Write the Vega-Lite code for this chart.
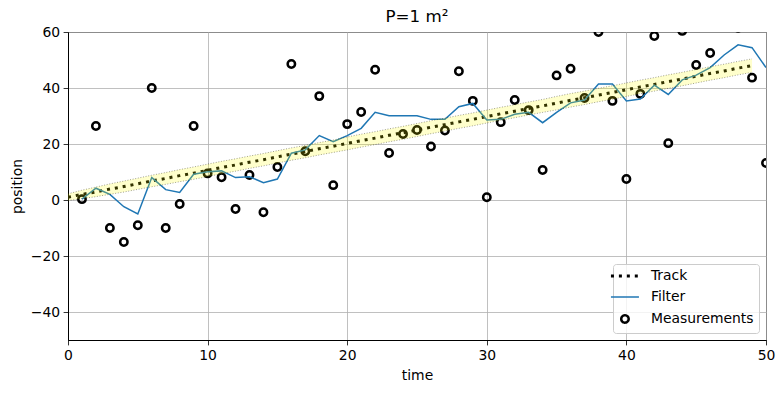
{
  "$schema": "https://vega.github.io/schema/vega-lite/v6.json",
  "width": 698,
  "height": 308,
  "autosize": {"type": "none"},
  "padding": {"left": 68, "top": 32, "right": 18, "bottom": 53},
  "title": {"text": "P=1 m²", "fontSize": 16.7, "font": "DejaVu Sans", "fontWeight": "normal", "color": "black", "offset": -1, "anchor": "middle"},
  "config": {
    "font": "DejaVu Sans",
    "view": {"stroke": "black", "strokeWidth": 1},
    "axis": {
      "labelFontSize": 13.9, "titleFontSize": 13.9, "labelColor": "black", "titleColor": "black",
      "titleFontWeight": "normal", "tickColor": "black", "domainColor": "black",
      "gridColor": "#b0b0b0", "gridWidth": 0.8, "tickSize": 4.9, "labelPadding": 3.5,
      "tickWidth": 0.8, "domainWidth": 1, "labelFont": "DejaVu Sans", "titleFont": "DejaVu Sans",
      "labelFlush": false
    },
    "legend": {
      "orient": "bottom-right", "offset": 7, "fillColor": "rgba(255,255,255,0.8)", "strokeColor": "#cccccc",
      "cornerRadius": 3, "padding": 5, "labelFontSize": 13.9, "labelColor": "black", "labelFont": "DejaVu Sans",
      "symbolType": "stroke", "symbolSize": 784, "rowPadding": 6, "labelOffset": 19
    }
  },
  "datasets": {
    "track": [
      {"time": 0, "position": 1.0, "lo": -0.2, "hi": 2.2},
      {"time": 1, "position": 2.0, "lo": 0.5, "hi": 3.5},
      {"time": 2, "position": 2.9, "lo": 1.2, "hi": 4.6},
      {"time": 3, "position": 3.9, "lo": 2.05, "hi": 5.75},
      {"time": 4, "position": 4.8, "lo": 2.85, "hi": 6.75},
      {"time": 5, "position": 5.8, "lo": 3.8, "hi": 7.8},
      {"time": 6, "position": 6.8, "lo": 4.75, "hi": 8.85},
      {"time": 7, "position": 7.7, "lo": 5.6, "hi": 9.8},
      {"time": 8, "position": 8.7, "lo": 6.55, "hi": 10.85},
      {"time": 9, "position": 9.6, "lo": 7.4, "hi": 11.8},
      {"time": 10, "position": 10.6, "lo": 8.4, "hi": 12.8},
      {"time": 11, "position": 11.6, "lo": 9.4, "hi": 13.8},
      {"time": 12, "position": 12.5, "lo": 10.3, "hi": 14.7},
      {"time": 13, "position": 13.5, "lo": 11.3, "hi": 15.7},
      {"time": 14, "position": 14.4, "lo": 12.2, "hi": 16.6},
      {"time": 15, "position": 15.4, "lo": 13.2, "hi": 17.6},
      {"time": 16, "position": 16.4, "lo": 14.2, "hi": 18.6},
      {"time": 17, "position": 17.3, "lo": 15.1, "hi": 19.5},
      {"time": 18, "position": 18.3, "lo": 16.1, "hi": 20.5},
      {"time": 19, "position": 19.2, "lo": 17.0, "hi": 21.4},
      {"time": 20, "position": 20.2, "lo": 17.9, "hi": 22.5},
      {"time": 21, "position": 21.2, "lo": 18.9, "hi": 23.5},
      {"time": 22, "position": 22.1, "lo": 19.8, "hi": 24.4},
      {"time": 23, "position": 23.1, "lo": 20.8, "hi": 25.4},
      {"time": 24, "position": 24.0, "lo": 21.7, "hi": 26.3},
      {"time": 25, "position": 25.0, "lo": 22.7, "hi": 27.3},
      {"time": 26, "position": 26.0, "lo": 23.7, "hi": 28.3},
      {"time": 27, "position": 26.9, "lo": 24.6, "hi": 29.2},
      {"time": 28, "position": 27.9, "lo": 25.6, "hi": 30.2},
      {"time": 29, "position": 28.8, "lo": 26.5, "hi": 31.1},
      {"time": 30, "position": 29.8, "lo": 27.5, "hi": 32.1},
      {"time": 31, "position": 30.8, "lo": 28.5, "hi": 33.1},
      {"time": 32, "position": 31.7, "lo": 29.4, "hi": 34.0},
      {"time": 33, "position": 32.7, "lo": 30.4, "hi": 35.0},
      {"time": 34, "position": 33.6, "lo": 31.3, "hi": 35.9},
      {"time": 35, "position": 34.6, "lo": 32.2, "hi": 37.0},
      {"time": 36, "position": 35.6, "lo": 33.2, "hi": 38.0},
      {"time": 37, "position": 36.5, "lo": 34.1, "hi": 38.9},
      {"time": 38, "position": 37.5, "lo": 35.1, "hi": 39.9},
      {"time": 39, "position": 38.4, "lo": 36.0, "hi": 40.8},
      {"time": 40, "position": 39.4, "lo": 37.0, "hi": 41.8},
      {"time": 41, "position": 40.4, "lo": 38.0, "hi": 42.8},
      {"time": 42, "position": 41.3, "lo": 38.9, "hi": 43.7},
      {"time": 43, "position": 42.3, "lo": 39.9, "hi": 44.7},
      {"time": 44, "position": 43.2, "lo": 40.8, "hi": 45.6},
      {"time": 45, "position": 44.2, "lo": 41.8, "hi": 46.6},
      {"time": 46, "position": 45.2, "lo": 42.8, "hi": 47.6},
      {"time": 47, "position": 46.1, "lo": 43.7, "hi": 48.5},
      {"time": 48, "position": 47.1, "lo": 44.7, "hi": 49.5},
      {"time": 49, "position": 48.0, "lo": 45.6, "hi": 50.4}
    ],
    "filter": [
      {"time": 1, "position": 0.3}, {"time": 2, "position": 4.2}, {"time": 3, "position": 2.0},
      {"time": 4, "position": -2.4}, {"time": 5, "position": -5.0}, {"time": 6, "position": 8.0},
      {"time": 7, "position": 3.7}, {"time": 8, "position": 2.7}, {"time": 9, "position": 9.2},
      {"time": 10, "position": 10.1}, {"time": 11, "position": 10.4}, {"time": 12, "position": 8.0},
      {"time": 13, "position": 8.3}, {"time": 14, "position": 6.2}, {"time": 15, "position": 7.5},
      {"time": 16, "position": 16.7}, {"time": 17, "position": 17.9}, {"time": 18, "position": 23.0},
      {"time": 19, "position": 20.8}, {"time": 20, "position": 23.0}, {"time": 21, "position": 25.6},
      {"time": 22, "position": 31.3}, {"time": 23, "position": 30.1}, {"time": 24, "position": 30.1},
      {"time": 25, "position": 30.1}, {"time": 26, "position": 28.8}, {"time": 27, "position": 28.8},
      {"time": 28, "position": 33.3}, {"time": 29, "position": 34.5}, {"time": 30, "position": 28.6},
      {"time": 31, "position": 28.8}, {"time": 32, "position": 30.6}, {"time": 33, "position": 31.3},
      {"time": 34, "position": 27.6}, {"time": 35, "position": 31.3}, {"time": 36, "position": 34.7},
      {"time": 37, "position": 35.7}, {"time": 38, "position": 41.4}, {"time": 39, "position": 41.4},
      {"time": 40, "position": 35.4}, {"time": 41, "position": 36.1}, {"time": 42, "position": 41.0},
      {"time": 43, "position": 37.7}, {"time": 44, "position": 42.9}, {"time": 45, "position": 44.6},
      {"time": 46, "position": 47.3}, {"time": 47, "position": 51.8}, {"time": 48, "position": 55.4},
      {"time": 49, "position": 54.4}, {"time": 50, "position": 47.3}
    ],
    "meas": [
      {"time": 1, "position": 0.3}, {"time": 2, "position": 26.4}, {"time": 3, "position": -10.0},
      {"time": 4, "position": -15.0}, {"time": 5, "position": -9.0}, {"time": 6, "position": 40.0},
      {"time": 7, "position": -10.0}, {"time": 8, "position": -1.4}, {"time": 9, "position": 26.4},
      {"time": 10, "position": 9.5}, {"time": 11, "position": 8.1}, {"time": 12, "position": -3.2},
      {"time": 13, "position": 8.9}, {"time": 14, "position": -4.4}, {"time": 15, "position": 11.8},
      {"time": 16, "position": 48.6}, {"time": 17, "position": 17.4}, {"time": 18, "position": 37.1},
      {"time": 19, "position": 5.3}, {"time": 20, "position": 27.1}, {"time": 21, "position": 31.4},
      {"time": 22, "position": 46.5}, {"time": 23, "position": 16.8}, {"time": 24, "position": 23.6},
      {"time": 25, "position": 25.0}, {"time": 26, "position": 19.1}, {"time": 27, "position": 24.8},
      {"time": 28, "position": 46.0}, {"time": 29, "position": 35.4}, {"time": 30, "position": 1.0},
      {"time": 31, "position": 27.8}, {"time": 32, "position": 35.7}, {"time": 33, "position": 32.1},
      {"time": 34, "position": 10.7}, {"time": 35, "position": 44.5}, {"time": 36, "position": 46.9},
      {"time": 37, "position": 36.4}, {"time": 38, "position": 60.0}, {"time": 39, "position": 35.4},
      {"time": 40, "position": 7.5}, {"time": 41, "position": 37.9}, {"time": 42, "position": 58.6},
      {"time": 43, "position": 20.3}, {"time": 44, "position": 60.4}, {"time": 45, "position": 48.2},
      {"time": 46, "position": 52.5}, {"time": 47, "position": 66.0}, {"time": 48, "position": 61.5},
      {"time": 49, "position": 43.7}, {"time": 50, "position": 13.2}
    ]
  },
  "encoding": {
    "x": {"field": "time", "type": "quantitative", "title": "time",
      "scale": {"domain": [0, 50], "nice": false, "zero": false},
      "axis": {"values": [0, 10, 20, 30, 40, 50], "grid": true, "titlePadding": 6}}
  },
  "layer": [
    {
      "data": {"name": "track"},
      "transform": [{"calculate": "'Track'", "as": "series"}],
      "mark": {"type": "line", "strokeWidth": 3, "strokeDash": [3, 4.95], "clip": true},
      "encoding": {
        "y": {"field": "position", "type": "quantitative", "title": "position",
          "scale": {"domain": [-50, 60], "nice": false, "zero": false},
          "axis": {"values": [-40, -20, 0, 20, 40, 60], "grid": true, "titlePadding": 6}},
        "color": {"field": "series", "type": "nominal",
          "scale": {"domain": ["Track", "Filter", "Measurements"], "range": ["black", "#1f77b4", "black"]},
          "legend": {
            "title": null,
            "encode": {
              "symbols": {
                "update": {
                  "shape": {"signal": "datum.value === 'Measurements' ? 'circle' : 'stroke'"},
                  "size": {"signal": "datum.value === 'Measurements' ? 55 : 784"},
                  "strokeWidth": {"signal": "datum.value === 'Track' ? 3 : (datum.value === 'Filter' ? 1.5 : 2.5)"},
                  "strokeDash": {"signal": "datum.value === 'Track' ? [3, 4.95] : [1, 0]"},
                  "fill": {"value": "transparent"},
                  "opacity": {"value": 1}
                }
              }
            }
          }}
      }
    },
    {
      "data": {"name": "meas"},
      "transform": [{"calculate": "'Measurements'", "as": "series"}],
      "mark": {"type": "point", "filled": false, "size": 55, "strokeWidth": 2.5, "opacity": 1, "clip": true},
      "encoding": {
        "y": {"field": "position", "type": "quantitative", "title": "position"},
        "color": {"field": "series", "type": "nominal"}
      }
    },
    {
      "data": {"name": "filter"},
      "transform": [{"calculate": "'Filter'", "as": "series"}],
      "mark": {"type": "line", "strokeWidth": 1.5, "clip": true},
      "encoding": {
        "y": {"field": "position", "type": "quantitative", "title": "position"},
        "color": {"field": "series", "type": "nominal"}
      }
    },
    {
      "data": {"name": "track"},
      "mark": {"type": "line", "strokeWidth": 1, "strokeDash": [1, 1.65], "color": "black", "opacity": 0.4, "clip": true},
      "encoding": {"y": {"field": "hi", "type": "quantitative", "title": "position"}}
    },
    {
      "data": {"name": "track"},
      "mark": {"type": "line", "strokeWidth": 1, "strokeDash": [1, 1.65], "color": "black", "opacity": 0.4, "clip": true},
      "encoding": {"y": {"field": "lo", "type": "quantitative", "title": "position"}}
    },
    {
      "data": {"name": "track"},
      "mark": {"type": "area", "color": "yellow", "opacity": 0.2, "clip": true},
      "encoding": {
        "y": {"field": "lo", "type": "quantitative", "title": "position"},
        "y2": {"field": "hi"}
      }
    }
  ]
}
